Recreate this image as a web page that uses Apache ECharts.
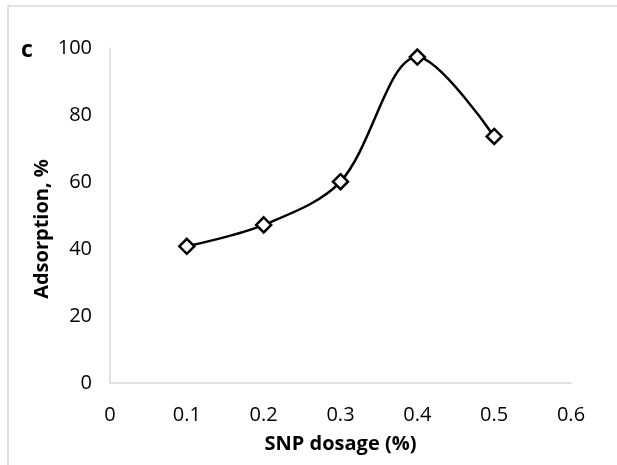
<!DOCTYPE html>
<html>
<head>
<meta charset="utf-8">
<script src="https://cdn.jsdelivr.net/npm/echarts@6/dist/echarts.min.js"></script>
<style>
  html, body { margin: 0; padding: 0; background: #fff; }
  #chart { width: 617px; height: 465px; }
</style>
</head>
<body>
<div id="chart"></div>
<script>
// SNP dosage (%) versus adsorption (%)
const dosage = [0.1, 0.2, 0.3, 0.4, 0.5];
const adsorption = [40.8, 47.2, 60.1, 97.3, 73.6];
const xTicks = [0, 0.1, 0.2, 0.3, 0.4, 0.5, 0.6];
const yTicks = [0, 20, 40, 60, 80, 100];

const font = '"Open Sans", Lato, sans-serif';
const chart = echarts.init(document.getElementById('chart'), null, { renderer: 'canvas' });

chart.setOption({
  animation: false,
  backgroundColor: '#ffffff',
  grid: { left: 110, right: 46, top: 48, bottom: 82, containLabel: false },
  graphic: [
    {
      type: 'rect', silent: true,
      shape: { x: 8, y: 6, width: 700, height: 520 },
      style: { fill: 'none', stroke: '#d9d9d9', lineWidth: 1.5 }
    },
    {
      type: 'text', x: 27, y: 50,
      style: {
        text: 'c', font: 'bold 23px ' + font, fill: '#000',
        textAlign: 'center', textVerticalAlign: 'middle'
      }
    },
    {
      type: 'text', x: 42, y: 229, rotation: Math.PI / 2,
      style: {
        text: 'Adsorption, %', font: 'bold 20px ' + font, fill: '#000',
        textAlign: 'center', textVerticalAlign: 'middle'
      }
    }
  ],
  xAxis: {
    type: 'value',
    min: xTicks[0], max: xTicks[xTicks.length - 1], interval: 0.1,
    name: 'SNP dosage (%)', nameLocation: 'middle', nameGap: 51,
    nameTextStyle: { fontFamily: font, fontWeight: 'bold', fontSize: 20, color: '#000' },
    axisLine: { show: true, lineStyle: { color: '#d9d9d9', width: 1.5 } },
    axisTick: { show: false },
    splitLine: { show: false },
    axisLabel: {
      margin: 22, fontFamily: font, fontSize: 20, color: '#000',
      formatter: v => String(Math.round(v * 10) / 10)
    }
  },
  yAxis: {
    type: 'value',
    min: yTicks[0], max: yTicks[yTicks.length - 1], interval: 20,
    axisLine: { show: true, lineStyle: { color: '#d9d9d9', width: 1.5 } },
    axisTick: { show: false },
    splitLine: { show: false },
    axisLabel: { margin: 18, fontFamily: font, fontSize: 20, color: '#000' }
  },
  series: [{
    type: 'line',
    data: dosage.map((x, i) => [x, adsorption[i]]),
    smooth: 0.33,
    symbol: 'diamond',
    symbolSize: 15,
    showAllSymbol: true,
    lineStyle: { color: '#000', width: 2.5 },
    itemStyle: { color: '#fff', borderColor: '#000', borderWidth: 2.5 },
    z: 3
  }]
});
</script>
</body>
</html>
